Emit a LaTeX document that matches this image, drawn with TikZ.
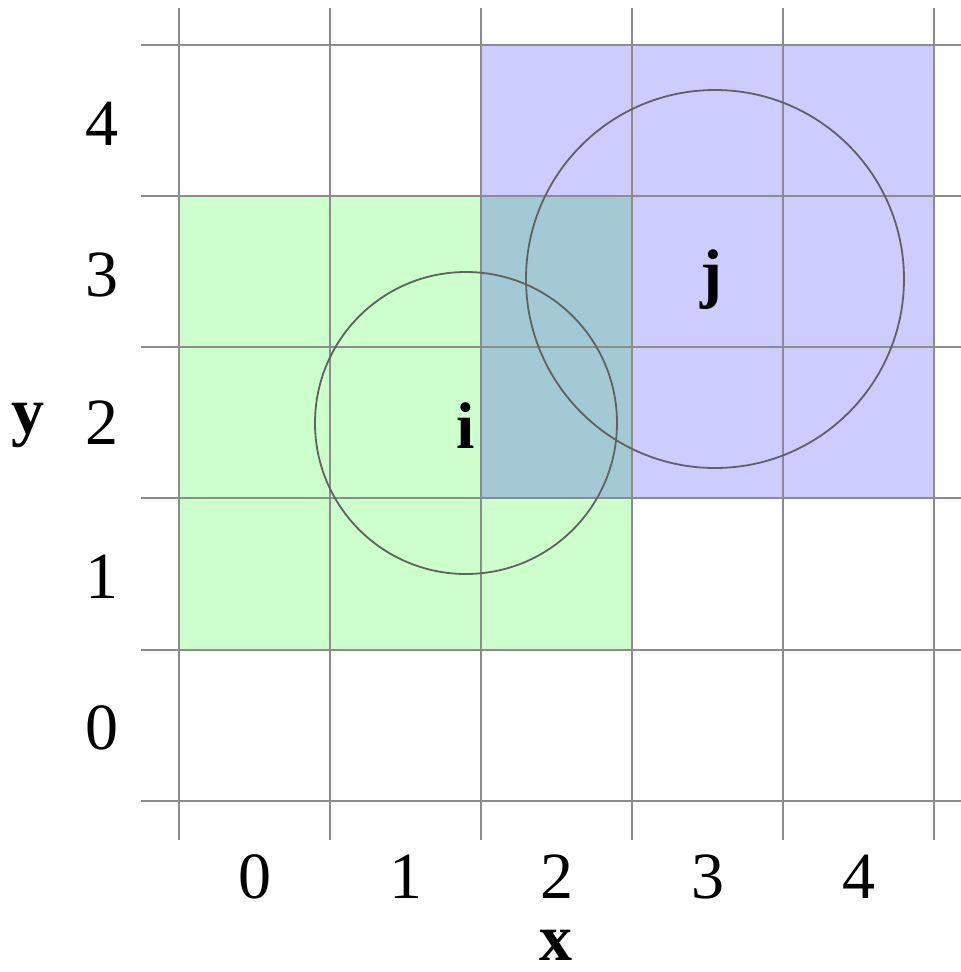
\documentclass[tikz,border=0pt]{standalone}
\usepackage{fontspec}
\setmainfont{Liberation Serif}
\begin{document}
\begin{tikzpicture}[x=1pt,y=-1pt,
  gridline/.style={draw=black!45,line width=1.3pt},
  ring/.style={draw=black!62,line width=1.8pt},
  num/.style={font=\fontsize{66}{70}\selectfont,inner sep=0pt,anchor=center},
  lab/.style={font=\fontsize{66}{70}\selectfont\bfseries,inner sep=0pt,anchor=base}]
\definecolor{gfill}{HTML}{CCFFCC}
\definecolor{bfill}{HTML}{CCCCFF}
\definecolor{ofill}{HTML}{A3CAD4}
\useasboundingbox (0,0) rectangle (961,972);
% filled regions
\fill[gfill] (179,196) rectangle (632,650);
\fill[bfill] (481,45) rectangle (934,498);
\fill[ofill] (481,196) rectangle (632,498);
% grid
\foreach \gx in {179,330,481,632,783,934} {\draw[gridline] (\gx,8) -- (\gx,840);}
\foreach \gy in {45,196,347,498,650,801} {\draw[gridline] (141,\gy) -- (961,\gy);}
% circles
\node[ring,circle,minimum size=302pt,inner sep=0pt] (ci) at (466,423) {};
\node[ring,circle,minimum size=378pt,inner sep=0pt] (cj) at (715,279) {};
% labels
\node[lab] (li) at (466,448) {i};
\node[lab] (lj) at (711,295) {j};
\foreach \v/\px in {0/254.5,1/405.5,2/556.5,3/707.5,4/858.5} {\node[num] (xl\v) at (\px,877) {\v};}
\foreach \v/\py in {4/124,3/275,2/423,1/577,0/728} {\node[num] (yl\v) at (102,\py) {\v};}
\node[lab] (xlab) at (556,960) {x};
\node[lab] (ylab) at (28,433) {y};
\end{tikzpicture}
\end{document}
